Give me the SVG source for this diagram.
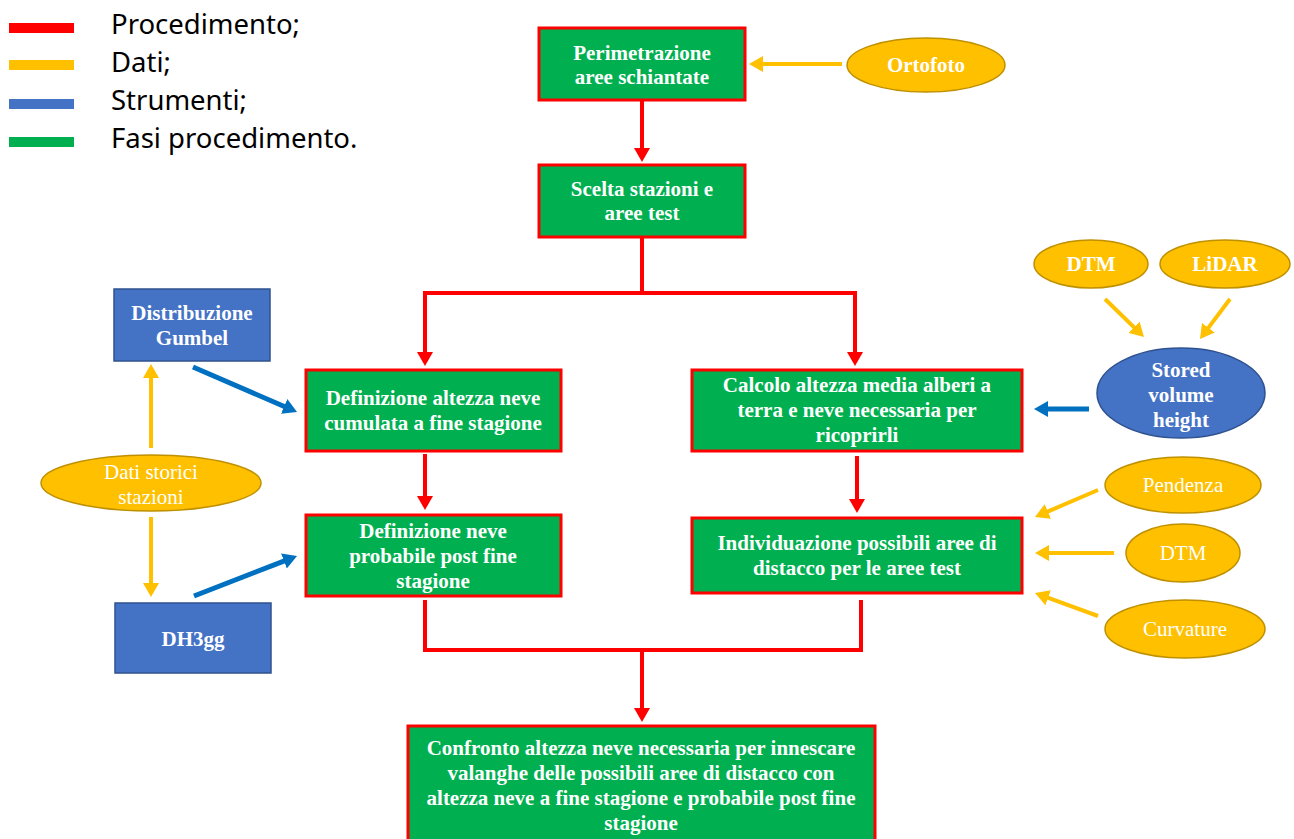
<svg xmlns="http://www.w3.org/2000/svg" width="1294" height="839" viewBox="0 0 1294 839">
  <style>
    .step { fill: #00B050; stroke: #FF0000; stroke-width: 3; }
    .tool { fill: #4472C4; stroke: #2F528F; stroke-width: 1.5; }
    .data { fill: #FFC000; stroke: #BF9000; stroke-width: 1.5; }
    .t { font-family: "Liberation Serif", "Times New Roman", serif; font-size: 21px; fill: #FFFFFF; text-anchor: middle; }
    .b { font-weight: bold; }
    .leg { font-family: "Noto Sans", "Liberation Sans", sans-serif; font-size: 27.5px; fill: #000000; }
    .red { fill: none; stroke: #FF0000; stroke-width: 4; stroke-linejoin: miter; marker-end: url(#ahRed); }
    .red0 { fill: none; stroke: #FF0000; stroke-width: 4; }
    .yel { fill: none; stroke: #FFC000; stroke-width: 4; marker-end: url(#ahYel); }
    .blu { fill: none; stroke: #0070C0; stroke-width: 5; marker-end: url(#ahBlu); }
  </style>
  <defs>
    <marker id="ahRed" viewBox="0 0 14 16" refX="2" refY="8" markerWidth="14" markerHeight="16" markerUnits="userSpaceOnUse" orient="auto">
      <path d="M0,0 L14,8 L0,16 Z" fill="#FF0000"/>
    </marker>
    <marker id="ahYel" viewBox="0 0 14 16" refX="2" refY="8" markerWidth="14" markerHeight="16" markerUnits="userSpaceOnUse" orient="auto">
      <path d="M0,0 L14,8 L0,16 Z" fill="#FFC000"/>
    </marker>
    <marker id="ahBlu" viewBox="0 0 14 16" refX="2" refY="8" markerWidth="14" markerHeight="16" markerUnits="userSpaceOnUse" orient="auto">
      <path d="M0,0 L14,8 L0,16 Z" fill="#0070C0"/>
    </marker>
  </defs>

  <rect width="1294" height="839" fill="#FFFFFF"/>

  <!-- legend -->
  <g id="legend">
    <rect x="9" y="23" width="65" height="10" fill="#FF0000"/>
    <rect x="9" y="60" width="65" height="10" fill="#FFC000"/>
    <rect x="9" y="99" width="65" height="10" fill="#4472C4"/>
    <rect x="9" y="137" width="65" height="10" fill="#00B050"/>
    <text class="leg" x="111" y="34">Procedimento;</text>
    <text class="leg" x="111" y="72">Dati;</text>
    <text class="leg" x="111" y="110">Strumenti;</text>
    <text class="leg" x="111" y="148">Fasi procedimento.</text>
  </g>

  <!-- connectors -->
  <g id="connectors">
    <path class="red" d="M642,100 V150"/>
    <path class="red0" d="M642,237 V293"/>
    <path class="red" d="M642,293 H425 V354"/>
    <path class="red" d="M642,293 H855 V354"/>
    <path class="red" d="M425,454 V498"/>
    <path class="red" d="M857,456 V501"/>
    <path class="red0" d="M425,600 V650 H861 V600"/>
    <path class="red" d="M642,650 V710"/>

    <path class="yel" d="M842,64 H761"/>
    <path class="yel" d="M1105,299 L1135.4,328.6"/>
    <path class="yel" d="M1230,299 L1207.2,329.4"/>
    <path class="yel" d="M151,448 V376"/>
    <path class="yel" d="M151,517 V585"/>
    <path class="yel" d="M1098,490 L1046,512.3"/>
    <path class="yel" d="M1114,553 H1047"/>
    <path class="yel" d="M1098,616 L1046.3,597.1"/>

    <path class="blu" d="M193,367 L286,407.2"/>
    <path class="blu" d="M194,596 L285.8,560.3"/>
    <path class="blu" d="M1089,409 H1046"/>
  </g>

  <!-- process steps -->
  <g id="perimetrazione">
    <rect class="step" x="539" y="28" width="206" height="72"/>
    <text class="t b" x="642" y="60">Perimetrazione</text>
    <text class="t b" x="642" y="84">aree schiantate</text>
  </g>
  <g id="scelta">
    <rect class="step" x="539" y="165" width="206" height="72"/>
    <text class="t b" x="642" y="196">Scelta stazioni e</text>
    <text class="t b" x="642" y="220">aree test</text>
  </g>
  <g id="def-altezza">
    <rect class="step" x="306" y="370" width="255" height="81"/>
    <text class="t b" x="433" y="405">Definizione altezza neve</text>
    <text class="t b" x="433" y="430">cumulata a fine stagione</text>
  </g>
  <g id="def-neve">
    <rect class="step" x="306" y="515" width="255" height="81"/>
    <text class="t b" x="433" y="538">Definizione neve</text>
    <text class="t b" x="433" y="563">probabile post fine</text>
    <text class="t b" x="433" y="588">stagione</text>
  </g>
  <g id="calcolo">
    <rect class="step" x="692" y="370" width="330" height="81"/>
    <text class="t b" x="857" y="392">Calcolo altezza media alberi a</text>
    <text class="t b" x="857" y="417">terra e neve necessaria per</text>
    <text class="t b" x="857" y="442">ricoprirli</text>
  </g>
  <g id="individuazione">
    <rect class="step" x="692" y="518" width="330" height="75"/>
    <text class="t b" x="857" y="550">Individuazione possibili aree di</text>
    <text class="t b" x="857" y="575">distacco per le aree test</text>
  </g>
  <g id="confronto">
    <rect class="step" x="408" y="726" width="467" height="130"/>
    <text class="t b" x="641" y="755">Confronto altezza neve necessaria per innescare</text>
    <text class="t b" x="641" y="780">valanghe delle possibili aree di distacco con</text>
    <text class="t b" x="641" y="805">altezza neve a fine stagione e probabile post fine</text>
    <text class="t b" x="641" y="830">stagione</text>
  </g>

  <!-- tools -->
  <g id="gumbel">
    <rect class="tool" x="114" y="289" width="156" height="72"/>
    <text class="t b" x="192" y="320">Distribuzione</text>
    <text class="t b" x="192" y="345">Gumbel</text>
  </g>
  <g id="dh3gg">
    <rect class="tool" x="115" y="603" width="156" height="70"/>
    <text class="t b" x="193" y="646">DH3gg</text>
  </g>
  <g id="stored-volume">
    <ellipse class="tool" cx="1181" cy="393" rx="84" ry="45"/>
    <text class="t b" x="1181" y="377">Stored</text>
    <text class="t b" x="1181" y="402">volume</text>
    <text class="t b" x="1181" y="427">height</text>
  </g>

  <!-- data -->
  <g id="ortofoto">
    <ellipse class="data" cx="926" cy="65" rx="79" ry="27"/>
    <text class="t b" x="926" y="72">Ortofoto</text>
  </g>
  <g id="dtm-top">
    <ellipse class="data" cx="1091" cy="264" rx="57" ry="24"/>
    <text class="t b" x="1091" y="271">DTM</text>
  </g>
  <g id="lidar">
    <ellipse class="data" cx="1225" cy="264" rx="65" ry="24"/>
    <text class="t b" x="1225" y="271">LiDAR</text>
  </g>
  <g id="dati-storici">
    <ellipse class="data" cx="151" cy="483" rx="110" ry="28"/>
    <text class="t" x="151" y="479">Dati storici</text>
    <text class="t" x="151" y="504">stazioni</text>
  </g>
  <g id="pendenza">
    <ellipse class="data" cx="1183" cy="485" rx="78" ry="28"/>
    <text class="t" x="1183" y="492">Pendenza</text>
  </g>
  <g id="dtm-slope">
    <ellipse class="data" cx="1183" cy="553" rx="57" ry="29"/>
    <text class="t" x="1183" y="560">DTM</text>
  </g>
  <g id="curvature">
    <ellipse class="data" cx="1185" cy="629" rx="80" ry="29"/>
    <text class="t" x="1185" y="636">Curvature</text>
  </g>
</svg>
